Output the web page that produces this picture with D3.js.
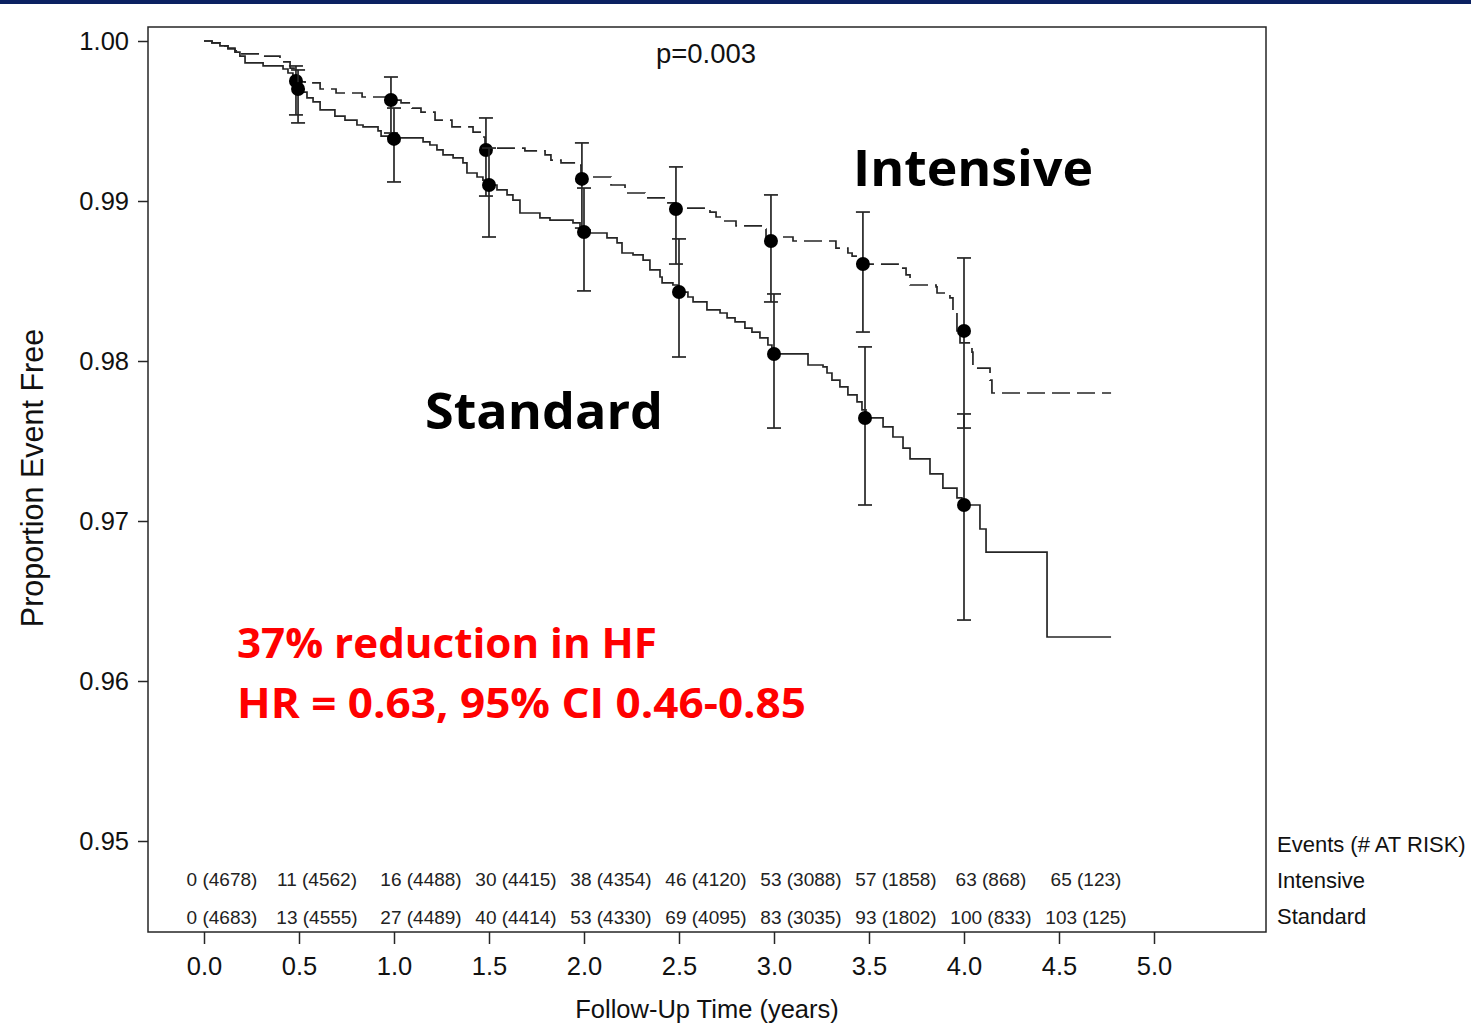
<!DOCTYPE html>
<html>
<head>
<meta charset="utf-8">
<script src="https://cdn.jsdelivr.net/npm/d3@7/dist/d3.min.js"></script>
<style>
  html, body { margin: 0; padding: 0; background: #fff; }
  svg { display: block; }
</style>
</head>
<body>
<svg id="chart" width="1471" height="1023"></svg>
<script>
// Kaplan-Meier step curves: [years, proportion event free]
const standardCurve = [
  [0, 1.0], [0.042, 0.99988], [0.084, 0.99969], [0.126, 0.9995], [0.163, 0.99931],
  [0.189, 0.99906], [0.216, 0.99863], [0.311, 0.99844], [0.416, 0.99825], [0.442, 0.998],
  [0.468, 0.99775], [0.489, 0.99725], [0.505, 0.997], [0.521, 0.99681], [0.542, 0.99644],
  [0.574, 0.99619], [0.611, 0.99569], [0.689, 0.99531], [0.742, 0.99506], [0.805, 0.99475],
  [0.837, 0.99463], [0.916, 0.99438], [0.932, 0.99406], [0.968, 0.99394], [1.153, 0.99369],
  [1.189, 0.9935], [1.226, 0.99319], [1.258, 0.99288], [1.311, 0.99269], [1.363, 0.99238],
  [1.384, 0.99175], [1.437, 0.9915], [1.468, 0.99131], [1.495, 0.991], [1.542, 0.99069],
  [1.595, 0.99038], [1.626, 0.99006], [1.663, 0.98925], [1.768, 0.98894], [1.821, 0.98881],
  [1.942, 0.98863], [1.979, 0.98819], [2.032, 0.988], [2.121, 0.98769], [2.174, 0.98738],
  [2.2, 0.98675], [2.258, 0.98663], [2.311, 0.98631], [2.347, 0.98569], [2.4, 0.98525],
  [2.411, 0.98488], [2.468, 0.98475], [2.495, 0.98431], [2.547, 0.984], [2.574, 0.98369],
  [2.647, 0.98319], [2.716, 0.983], [2.753, 0.98269], [2.795, 0.98244], [2.847, 0.98206],
  [2.884, 0.98181], [2.926, 0.98144], [2.968, 0.981], [2.989, 0.98044], [3.179, 0.97975],
  [3.258, 0.97963], [3.279, 0.97925], [3.305, 0.97881], [3.347, 0.97838], [3.389, 0.97788],
  [3.437, 0.97744], [3.463, 0.97694], [3.484, 0.97644], [3.574, 0.97588], [3.626, 0.97525],
  [3.679, 0.97456], [3.716, 0.97388], [3.821, 0.97294], [3.889, 0.97206], [3.963, 0.97144],
  [3.989, 0.971], [4.084, 0.9695], [4.116, 0.96806], [4.437, 0.96275], [4.774, 0.96275]
];

const intensiveCurve = [
  [0, 1.0], [0.042, 0.99988], [0.084, 0.99969], [0.126, 0.99956], [0.163, 0.99938],
  [0.189, 0.99919], [0.305, 0.99906], [0.4, 0.99869], [0.453, 0.99831], [0.474, 0.99781],
  [0.484, 0.99744], [0.532, 0.99738], [0.611, 0.997], [0.695, 0.99675], [0.832, 0.9965],
  [0.989, 0.99631], [1.037, 0.99613], [1.095, 0.99581], [1.142, 0.99556], [1.216, 0.99506],
  [1.305, 0.99463], [1.416, 0.99431], [1.463, 0.994], [1.479, 0.99331], [1.689, 0.99313],
  [1.795, 0.99288], [1.826, 0.99256], [1.879, 0.99238], [1.968, 0.99225], [1.984, 0.9915],
  [2.142, 0.991], [2.216, 0.9905], [2.321, 0.99019], [2.432, 0.98988], [2.484, 0.98956],
  [2.663, 0.98931], [2.695, 0.989], [2.732, 0.98875], [2.8, 0.98844], [2.942, 0.98825],
  [2.958, 0.98775], [3.1, 0.9875], [3.326, 0.98706], [3.389, 0.98675], [3.411, 0.98656],
  [3.442, 0.98625], [3.495, 0.98606], [3.653, 0.98581], [3.695, 0.98538], [3.716, 0.98475],
  [3.853, 0.98463], [3.858, 0.98425], [3.926, 0.98394], [3.942, 0.98306], [3.963, 0.98188],
  [3.979, 0.98113], [4.042, 0.98056], [4.047, 0.97956], [4.137, 0.97881], [4.147, 0.978],
  [4.774, 0.978]
];

// Point estimates with 95% confidence limits at half-year marks
const intensiveTimes = [0.484, 0.984, 1.484, 1.989, 2.484, 2.984, 3.468, 4.0];
const intensiveEst   = [0.9975, 0.99631, 0.99319, 0.99138, 0.9895, 0.9875, 0.98606, 0.98188];
const intensiveLower = [0.99538, 0.99425, 0.99031, 0.98831, 0.98606, 0.98369, 0.98181, 0.97581];
const intensiveUpper = [0.99844, 0.99775, 0.99519, 0.99363, 0.99213, 0.99038, 0.98931, 0.98644];

const standardTimes = [0.495, 1.0, 1.5, 2.0, 2.5, 3.0, 3.479, 4.0];
const standardEst   = [0.997, 0.99388, 0.991, 0.98806, 0.98431, 0.98044, 0.97644, 0.971];
const standardLower = [0.99488, 0.99119, 0.98775, 0.98438, 0.98025, 0.97581, 0.971, 0.96381];
const standardUpper = [0.99819, 0.99581, 0.99331, 0.99081, 0.98763, 0.98419, 0.98088, 0.97669];

// Number-at-risk table
const riskTimes = [0.0, 0.5, 1.0, 1.5, 2.0, 2.5, 3.0, 3.5, 4.0, 4.5];
const intensiveRisk = ["0 (4678)", "11 (4562)", "16 (4488)", "30 (4415)", "38 (4354)",
                       "46 (4120)", "53 (3088)", "57 (1858)", "63 (868)", "65 (123)"];
const standardRisk  = ["0 (4683)", "13 (4555)", "27 (4489)", "40 (4414)", "53 (4330)",
                       "69 (4095)", "83 (3035)", "93 (1802)", "100 (833)", "103 (125)"];

const xTicks = [0, 0.5, 1, 1.5, 2, 2.5, 3, 3.5, 4, 4.5, 5];
const yTicks = [0.95, 0.96, 0.97, 0.98, 0.99, 1.00];

const svg = d3.select("#chart");
const ink = "#262626";
const axisFont = "'Liberation Sans', Arial, Helvetica, sans-serif";
const boldFont = "'Open Sans', 'Noto Sans', sans-serif";

// top banner strip
svg.append("rect").attr("x", 0).attr("y", 0).attr("width", 1471).attr("height", 4)
  .attr("fill", "#0b2161");

const frame = { left: 148, top: 27, right: 1266, bottom: 932 };

const x = d3.scaleLinear().domain([0, 5]).range([204, 1154]);
const y = d3.scaleLinear().domain([0.95, 1.0]).range([841, 41]);

// Y axis
const yAxis = svg.append("g")
  .attr("transform", `translate(${frame.left},0)`)
  .call(d3.axisLeft(y).tickValues(yTicks).tickFormat(d3.format(".2f"))
        .tickSize(10).tickPadding(9));
yAxis.select(".domain").remove();
yAxis.selectAll("line").attr("stroke", ink).attr("stroke-width", 1.5);
yAxis.selectAll("text").attr("font-family", axisFont).attr("font-size", 25.5)
  .attr("fill", "#111");

// X axis
const xAxis = svg.append("g")
  .attr("transform", `translate(0,${frame.bottom})`)
  .call(d3.axisBottom(x).tickValues(xTicks).tickFormat(d3.format(".1f"))
        .tickSize(12).tickPadding(13));
xAxis.select(".domain").remove();
xAxis.selectAll("line").attr("stroke", ink).attr("stroke-width", 1.5);
xAxis.selectAll("text").attr("font-family", axisFont).attr("font-size", 25.5)
  .attr("fill", "#111");

// Plot frame
svg.append("rect")
  .attr("x", frame.left).attr("y", frame.top)
  .attr("width", frame.right - frame.left).attr("height", frame.bottom - frame.top)
  .attr("fill", "none").attr("stroke", ink).attr("stroke-width", 1.5);

// Axis titles
svg.append("text")
  .attr("transform", "translate(43,478) rotate(-90)")
  .attr("text-anchor", "middle")
  .attr("font-family", axisFont).attr("font-size", 30.5).attr("fill", "#111")
  .text("Proportion Event Free");

svg.append("text")
  .attr("x", 707).attr("y", 1018)
  .attr("text-anchor", "middle")
  .attr("font-family", axisFont).attr("font-size", 25.5).attr("fill", "#111")
  .text("Follow-Up Time (years)");

svg.append("text")
  .attr("x", 706).attr("y", 63)
  .attr("text-anchor", "middle")
  .attr("font-family", axisFont).attr("font-size", 27.5).attr("fill", "#111")
  .text("p=0.003");

// Step curves
const step = d3.line().x(d => x(d[0])).y(d => y(d[1])).curve(d3.curveStepAfter);

svg.append("path").datum(standardCurve)
  .attr("d", step).attr("fill", "none")
  .attr("stroke", ink).attr("stroke-width", 1.7);

svg.append("path").datum(intensiveCurve)
  .attr("d", step).attr("fill", "none")
  .attr("stroke", ink).attr("stroke-width", 1.7)
  .attr("stroke-dasharray", "18,7");

// Error bars and point estimates
function drawEstimates(times, est, lower, upper) {
  const g = svg.append("g");
  const cap = 7;
  times.forEach((t, i) => {
    const cx = x(t);
    g.append("line").attr("x1", cx).attr("x2", cx)
      .attr("y1", y(lower[i])).attr("y2", y(upper[i]))
      .attr("stroke", ink).attr("stroke-width", 1.7);
    [lower[i], upper[i]].forEach(v => {
      g.append("line").attr("x1", cx - cap).attr("x2", cx + cap)
        .attr("y1", y(v)).attr("y2", y(v))
        .attr("stroke", ink).attr("stroke-width", 1.7);
    });
  });
  g.selectAll("circle").data(times).join("circle")
    .attr("cx", d => x(d)).attr("cy", (d, i) => y(est[i]))
    .attr("r", 7).attr("fill", "#000");
}
drawEstimates(intensiveTimes, intensiveEst, intensiveLower, intensiveUpper);
drawEstimates(standardTimes, standardEst, standardLower, standardUpper);

// Group labels
svg.append("text")
  .attr("x", 853).attr("y", 186)
  .attr("font-family", boldFont).attr("font-weight", 700).attr("font-size", 50)
  .attr("textLength", 240).attr("lengthAdjust", "spacingAndGlyphs")
  .attr("fill", "#000").text("Intensive");

svg.append("text")
  .attr("x", 425).attr("y", 429)
  .attr("font-family", boldFont).attr("font-weight", 700).attr("font-size", 50)
  .attr("textLength", 238).attr("lengthAdjust", "spacingAndGlyphs")
  .attr("fill", "#000").text("Standard");

// Hazard ratio annotation
svg.append("text")
  .attr("x", 237).attr("y", 658)
  .attr("font-family", boldFont).attr("font-weight", 700).attr("font-size", 40.5)
  .attr("textLength", 420).attr("lengthAdjust", "spacingAndGlyphs")
  .attr("fill", "#ff0000").text("37% reduction in HF");

svg.append("text")
  .attr("x", 237).attr("y", 718)
  .attr("font-family", boldFont).attr("font-weight", 700).attr("font-size", 40.5)
  .attr("textLength", 569).attr("lengthAdjust", "spacingAndGlyphs")
  .attr("fill", "#ff0000").text("HR = 0.63, 95% CI 0.46-0.85");

// At-risk table inside the frame
function riskRow(labels, baseline) {
  svg.append("g").selectAll("text").data(labels).join("text")
    .attr("x", (d, i) => x(riskTimes[i]) + (riskTimes[i] < 1 ? 18 : 27))
    .attr("y", baseline)
    .attr("text-anchor", "middle")
    .attr("font-family", axisFont).attr("font-size", 19).attr("fill", "#222")
    .text(d => d);
}
riskRow(intensiveRisk, 886);
riskRow(standardRisk, 924);

// Table row labels to the right of the frame
const rowLabels = ["Events (# AT RISK)", "Intensive", "Standard"];
const rowBaselines = [852, 888, 924];
svg.append("g").selectAll("text").data(rowLabels).join("text")
  .attr("x", 1277).attr("y", (d, i) => rowBaselines[i])
  .attr("font-family", axisFont).attr("font-size", 22).attr("fill", "#111")
  .text(d => d);
</script>
</body>
</html>
